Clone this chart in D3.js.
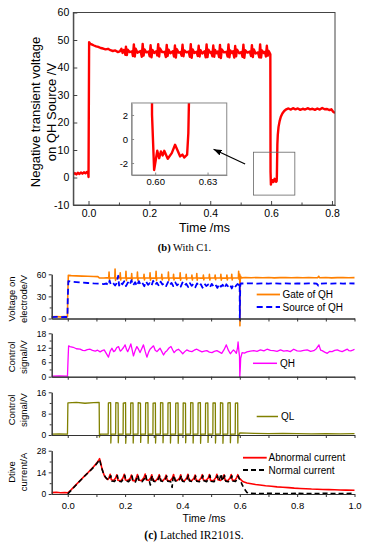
<!DOCTYPE html>
<html>
<head>
<meta charset="utf-8">
<script src="https://cdn.jsdelivr.net/npm/d3@7"></script>
<style>
  body { margin: 0; background: #fff; }
</style>
</head>
<body>
<main></main>
<script>
// ---------- values ----------

// (b) negative transient voltage on QH source, [time ms, V]
const negVoltage = [
  [-0.05,1.2],[-0.045,1.6],[-0.04,1.1],[-0.035,1.7],[-0.03,1.3],[-0.025,1.8],[-0.02,1.4],[-0.015,1.9],[-0.01,1.5],[-0.005,2.0],[-0.001,1.6],[0.0,0.2],
  [0.002,49.2],[0.006,48.6],[0.012,48.3],[0.018,48.0],[0.025,47.7],[0.032,47.5],[0.04,47.1],[0.048,46.9],[0.056,46.6],[0.064,46.8],[0.072,46.3],[0.08,46.0],[0.088,46.2],[0.096,45.6],[0.103,45.9],[0.108,46.8],[0.112,45.3],[0.116,46.4],
  [0.119,45.6],[0.121,44.6],[0.123,47.6],[0.126,44.5],[0.129,46.5],[0.135,45.6],
  [0.143,45.9],[0.146,44.2],[0.149,48.4],[0.152,44.0],[0.155,46.8],[0.161,45.4],
  [0.171,46.0],[0.175,43.9],[0.178,48.6],[0.181,44.3],[0.184,46.6],[0.19,45.5],
  [0.197,45.8],[0.201,44.1],[0.204,48.1],[0.207,43.7],[0.21,46.4],[0.216,45.3],
  [0.222,45.9],[0.226,44.4],[0.229,48.5],[0.232,44.0],[0.235,46.9],[0.242,45.6],
  [0.25,45.7],[0.254,43.8],[0.257,48.2],[0.26,44.2],[0.263,46.5],[0.269,45.2],
  [0.277,45.9],[0.281,44.0],[0.284,48.0],[0.287,43.6],[0.29,46.7],[0.296,45.4],
  [0.302,45.6],[0.306,44.3],[0.309,48.3],[0.312,44.1],[0.315,46.2],[0.322,45.5],
  [0.329,45.8],[0.333,43.9],[0.336,48.5],[0.339,43.5],[0.342,46.6],[0.348,45.3],
  [0.355,45.7],[0.359,44.2],[0.362,47.9],[0.365,44.0],[0.368,46.3],[0.374,45.1],
  [0.381,45.9],[0.385,43.7],[0.388,48.4],[0.391,43.8],[0.394,46.5],[0.4,45.4],
  [0.403,45.6],[0.407,44.1],[0.41,48.0],[0.413,43.9],[0.416,46.4],[0.421,45.2],
  [0.425,45.8],[0.429,43.8],[0.432,48.2],[0.435,43.4],[0.438,46.6],[0.445,45.5],
  [0.453,45.7],[0.457,44.0],[0.46,48.4],[0.463,43.7],[0.466,46.2],[0.472,45.3],
  [0.475,45.9],[0.479,43.6],[0.482,47.8],[0.485,44.1],[0.488,46.5],[0.495,45.2],
  [0.502,45.6],[0.506,43.9],[0.509,48.3],[0.512,43.5],[0.515,46.3],[0.522,45.4],
  [0.53,45.8],[0.534,44.2],[0.537,48.1],[0.54,43.8],[0.543,46.6],[0.549,45.1],
  [0.557,45.5],[0.561,43.7],[0.564,48.4],[0.567,43.6],[0.57,46.2],[0.576,45.3],
  [0.58,45.7],[0.583,44.0],[0.586,47.9],[0.589,44.3],[0.592,46.0],[0.595,45.4],
  [0.5975,44.8],[0.5982,2.0],[0.5994,-2.58],[0.6012,-0.98],[0.6023,-1.6],[0.6033,-1.03],[0.6043,-1.37],[0.6052,-0.98],[0.6072,-1.65],[0.6095,-1.18],[0.6114,-0.48],[0.6129,-0.98],[0.6143,-1.45],[0.6156,-1.3],[0.6167,-1.54],[0.6183,-1.3],
  [0.619,0.5],[0.6196,5],[0.6206,12],[0.622,15.5],[0.6245,18.4],[0.628,20.5],[0.632,22.1],[0.637,23.3],[0.643,24.2],[0.65,24.8],[0.657,25.1],[0.665,24.7],[0.672,25.2],[0.68,24.8],[0.688,25.1],[0.696,24.6],[0.704,25.0],[0.712,24.7],[0.72,25.2],[0.728,24.8],[0.736,25.0],[0.744,24.6],[0.752,25.1],[0.76,24.7],[0.768,25.3],[0.776,24.8],[0.784,24.9],[0.792,24.5],[0.798,24.8],[0.804,23.9],[0.81,23.5]
];
const topXTicks = [0.0, 0.2, 0.4, 0.6, 0.8];
const topXMinor = [0.1, 0.3, 0.5, 0.7];
const topYTicks = [-10, 0, 10, 20, 30, 40, 50, 60];
const insetXTicks = [0.60, 0.63];
const insetYTicks = [-2, 0, 2];
// inset window, highlight box and arrow, in main chart units
const insetDomainX = [0.5865, 0.641];
const insetDomainY = [-3, 3];
const insetPlace = [0.1416, 0.4543, 0.9, 27.1];   // t0, t1, v0, v1
const zoomBox = [0.542, 0.678, -6.4, 9.2];
const arrowFrom = [0.5146, 4.9];
const arrowTo = [0.411, 10.25];

// (c) latched IR2101S
const gateQH = [
  [-0.056,2.3],[-0.04,2.6],[-0.025,2.2],[-0.01,2.5],[-0.001,2.3],[0.0,31],[0.002,58.6],[0.012,58.2],[0.03,57.8],[0.05,57.5],[0.07,57.3],[0.09,57.0],[0.105,56.9],[0.11,55.2],[0.125,55.0],[0.135,55.3],
  [0.143,55.1],[0.144,63],[0.1455,52.5],[0.147,55.4],[0.155,55.0],
  [0.164,55.2],[0.165,67],[0.1665,51.8],[0.168,55.3],[0.175,54.9],
  [0.182,55.2],[0.183,62],[0.1845,52.3],[0.186,55.1],[0.195,55.0],
  [0.202,55.3],[0.203,64],[0.2045,51.5],[0.206,55.2],[0.214,54.8],
  [0.222,55.1],[0.223,61],[0.2245,52.6],[0.226,55.3],[0.234,55.0],
  [0.242,55.2],[0.243,63],[0.2445,51.9],[0.246,55.1],[0.255,54.9],
  [0.265,55.2],[0.266,60],[0.2675,52.4],[0.269,55.3],[0.277,55.0],
  [0.286,55.1],[0.287,62],[0.2885,52.0],[0.29,55.2],[0.298,54.8],
  [0.307,55.2],[0.308,64],[0.3095,51.6],[0.311,55.3],[0.319,55.0],
  [0.327,55.1],[0.328,60],[0.3295,52.5],[0.331,55.2],[0.34,54.9],
  [0.35,55.2],[0.351,63],[0.3525,51.8],[0.354,55.1],[0.36,55.0],
  [0.368,55.3],[0.369,60],[0.3705,52.4],[0.372,55.2],[0.381,54.8],
  [0.391,55.1],[0.392,62],[0.3935,52.1],[0.395,55.3],[0.403,55.0],
  [0.412,55.2],[0.413,60],[0.4145,52.6],[0.416,55.1],[0.424,54.9],
  [0.432,55.2],[0.433,59],[0.4345,52.3],[0.436,55.2],[0.442,55.0],
  [0.449,55.1],[0.45,61],[0.4515,52.0],[0.453,55.3],[0.462,54.8],
  [0.472,55.2],[0.473,59],[0.4745,52.5],[0.476,55.1],[0.485,55.0],
  [0.493,55.3],[0.494,60],[0.4955,52.2],[0.497,55.2],[0.505,54.9],
  [0.513,55.1],[0.514,59],[0.5155,52.6],[0.517,55.3],[0.525,55.0],
  [0.533,55.2],[0.534,60],[0.5355,52.1],[0.537,55.1],[0.545,54.8],
  [0.554,55.2],[0.555,59],[0.5565,52.4],[0.558,55.2],[0.565,55.0],
  [0.571,55.1],[0.572,60],[0.5735,52.3],[0.575,55.3],[0.586,54.9],
  [0.595,55.2],[0.596,64],[0.5975,53.0],[0.599,56.5],[0.6,60],[0.6005,-10],[0.601,48],[0.6025,57.5],[0.605,55.2],
  [0.62,55.6],[0.64,55.3],[0.66,55.7],[0.68,55.4],[0.7,55.6],[0.72,55.2],[0.74,55.5],[0.76,55.7],[0.78,55.3],[0.8,55.6],[0.82,55.4],[0.84,55.6],[0.86,55.3],[0.872,55.5],[0.875,57.3],[0.878,55.4],[0.9,55.6],[0.92,55.2],[0.94,55.5],[0.96,55.7],[0.98,55.3],[1.0,55.5]
];
const sourceQH = [
  [-0.056,1.9],[-0.04,2.2],[-0.025,1.8],[-0.01,2.1],[-0.001,2.0],[0.0,26],[0.002,50.6],[0.015,50.0],[0.03,49.4],[0.05,48.7],[0.07,48.2],[0.09,47.6],[0.11,47.2],[0.125,46.8],[0.135,47.5],
  [0.142,45.2],[0.146,51.5],[0.15,46.0],[0.158,48.2],[0.165,44.8],[0.17,47.6],[0.176,58.0],[0.179,44.5],[0.185,49.5],[0.19,46.3],[0.197,50.5],[0.203,44.0],[0.21,48.8],[0.216,45.5],[0.222,52.0],[0.228,45.0],[0.235,49.2],[0.241,44.3],[0.248,50.8],[0.254,46.0],[0.26,48.5],[0.267,43.8],[0.273,50.2],[0.28,45.6],[0.286,48.0],[0.292,44.5],[0.298,51.2],[0.305,45.8],[0.311,48.6],[0.318,44.2],[0.324,50.0],[0.33,46.2],[0.337,47.8],[0.343,43.9],[0.35,49.6],[0.356,45.4],[0.362,48.3],[0.368,44.0],[0.375,49.0],[0.381,45.0],[0.388,47.5],[0.394,43.2],[0.4,48.8],[0.407,44.6],[0.413,47.2],[0.42,42.8],[0.426,48.0],[0.432,44.3],[0.438,46.8],[0.445,42.5],[0.451,47.6],[0.458,43.8],[0.464,46.5],[0.47,41.8],[0.477,47.3],[0.483,44.0],[0.49,46.2],[0.496,42.2],[0.502,47.0],[0.509,43.5],[0.515,46.0],[0.522,41.5],[0.528,46.8],[0.534,43.2],[0.54,45.8],[0.547,41.2],[0.553,46.5],[0.56,43.0],[0.566,45.6],[0.572,40.8],[0.578,46.3],[0.585,43.6],[0.592,46.8],[0.598,45.2],
  [0.5995,47],[0.6,-1.5],[0.6015,44],[0.603,47.6],
  [0.62,47.5],[0.64,47.8],[0.66,47.3],[0.68,47.7],[0.7,47.4],[0.72,47.8],[0.74,47.3],[0.76,47.6],[0.78,47.2],[0.8,47.7],[0.82,47.4],[0.84,47.8],[0.86,47.5],[0.868,47.3],[0.874,44.6],[0.88,47.4],[0.9,47.8],[0.92,47.3],[0.94,47.7],[0.96,47.4],[0.98,47.6],[1.0,47.5]
];
const qhSignal = [
  [-0.056,0.2],[-0.03,0.3],[-0.001,0.2],[0.001,7],[0.003,12.8],[0.008,12.5],[0.019,12.2],[0.03,11.6],[0.043,11.4],[0.052,10.9],[0.06,10.8],[0.068,11.2],[0.078,11.4],[0.086,10.9],[0.096,10.6],[0.104,11.0],[0.113,10.3],[0.12,10.8],[0.127,11.1],[0.142,8.1],[0.148,10.6],[0.154,11.8],[0.16,10.4],[0.165,10.8],[0.171,12.1],[0.177,12.5],[0.183,10.6],[0.188,11.1],[0.194,12.0],[0.2,13.2],[0.205,11.3],[0.209,10.4],[0.215,12.0],[0.22,13.6],[0.225,10.9],[0.229,8.6],[0.235,10.8],[0.241,12.5],[0.247,11.3],[0.252,10.0],[0.258,11.6],[0.264,13.2],[0.27,10.5],[0.276,8.1],[0.282,10.2],[0.287,11.4],[0.293,12.1],[0.299,12.8],[0.305,11.0],[0.311,10.4],[0.317,11.2],[0.322,11.8],[0.328,10.4],[0.334,9.0],[0.34,10.2],[0.346,10.8],[0.353,11.9],[0.36,12.5],[0.366,11.1],[0.371,10.0],[0.378,10.9],[0.386,11.4],[0.393,10.6],[0.401,9.5],[0.408,10.4],[0.415,11.1],[0.424,10.6],[0.433,10.4],[0.441,11.0],[0.45,11.4],[0.459,10.8],[0.468,10.3],[0.476,10.6],[0.485,10.8],[0.494,10.2],[0.503,10.0],[0.511,10.5],[0.52,10.8],[0.528,10.3],[0.537,9.7],[0.545,11.2],[0.553,13.2],[0.56,11.0],[0.567,9.5],[0.572,10.3],[0.578,11.1],[0.583,10.5],[0.588,9.7],[0.592,12.0],[0.594,14.4],[0.597,10.4],[0.599,8.5],[0.6,0.0],[0.6015,3.0],[0.603,7.6],[0.608,10.0],
  [0.616,9.8],[0.625,10.3],[0.637,10.6],[0.649,10.8],[0.66,10.5],[0.672,11.1],[0.684,10.7],[0.695,11.4],[0.707,10.9],[0.718,10.8],[0.73,10.5],[0.742,11.1],[0.753,10.6],[0.765,10.8],[0.776,10.4],[0.788,11.4],[0.8,10.7],[0.812,10.6],[0.823,10.9],[0.835,11.1],[0.847,10.5],[0.858,10.8],[0.867,11.6],[0.876,13.2],[0.882,11.0],[0.887,10.8],[0.896,10.2],[0.905,9.7],[0.913,10.5],[0.922,10.4],[0.931,10.9],[0.94,11.1],[0.948,10.7],[0.957,10.4],[0.966,10.9],[0.975,11.4],[0.981,10.8],[0.987,10.7],[0.994,11.0],[1.0,11.4]
];
const qlSignal = [
  [-0.056,0.3],[-0.03,0.4],[-0.001,0.3],[0.0005,12.0],[0.03,12.2],[0.06,11.9],[0.09,12.1],[0.1095,12.2],[0.1105,-0.8],[0.113,0.3],
  [0.141,0.3],[0.1416,12.0],[0.1496,12.1],[0.1502,-3.0],[0.1515,0.3],
  [0.167,0.3],[0.1676,12.1],[0.1756,12.0],[0.1762,-2.9],[0.1775,0.3],
  [0.193,0.3],[0.1936,11.9],[0.2016,12.1],[0.2022,-3.1],[0.2035,0.3],
  [0.219,0.3],[0.2196,12.0],[0.2276,12.0],[0.2282,-3.0],[0.2295,0.3],
  [0.245,0.3],[0.2456,12.1],[0.2536,11.9],[0.2542,-2.8],[0.2555,0.3],
  [0.271,0.3],[0.2716,12.0],[0.2796,12.1],[0.2802,-3.1],[0.2815,0.3],
  [0.297,0.3],[0.2976,11.9],[0.3056,12.0],[0.3062,-3.0],[0.3075,0.3],
  [0.323,0.3],[0.3236,12.1],[0.3316,12.0],[0.3322,-2.9],[0.3335,0.3],
  [0.349,0.3],[0.3496,12.0],[0.3576,12.1],[0.3582,-3.0],[0.3595,0.3],
  [0.376,0.3],[0.3766,11.9],[0.3846,12.0],[0.3852,-3.1],[0.3865,0.3],
  [0.402,0.3],[0.4026,12.0],[0.4106,11.9],[0.4112,-2.9],[0.4125,0.3],
  [0.428,0.3],[0.4286,12.1],[0.4366,12.0],[0.4372,-3.0],[0.4385,0.3],
  [0.454,0.3],[0.4546,12.0],[0.4626,12.1],[0.4632,-3.1],[0.4645,0.3],
  [0.48,0.3],[0.4806,11.9],[0.4886,12.0],[0.4892,-2.8],[0.4905,0.3],
  [0.506,0.3],[0.5066,12.0],[0.5146,12.0],[0.5152,-3.0],[0.5165,0.3],
  [0.532,0.3],[0.5326,12.1],[0.5406,11.9],[0.5412,-3.1],[0.5425,0.3],
  [0.558,0.3],[0.5586,12.0],[0.5666,12.1],[0.5672,-2.9],[0.5685,0.3],
  [0.584,0.3],[0.5846,11.9],[0.5926,12.0],[0.5932,-3.0],[0.5945,0.3],
  [0.599,0.3],[0.6,0.8],[0.65,0.6],[0.7,0.5],[0.75,0.6],[0.8,0.5],[0.85,0.4],[0.9,0.5],[0.95,0.4],[1.0,0.5]
];
const abnormalCur = [
  [-0.056,0.9],[-0.04,1.1],[-0.025,0.8],[-0.01,1.0],[0.0,0.8],[0.01,2.4],[0.02,4.3],[0.03,6.2],[0.04,8.1],[0.05,10.0],[0.06,11.9],[0.07,13.7],[0.08,15.6],[0.09,17.6],[0.1,19.8],[0.108,21.9],[0.111,22.9],[0.114,20.8],[0.118,17.5],[0.123,14.2],[0.128,11.6],[0.134,10.1],[0.14,9.4],
  [0.144,10.6],[0.148,12.8],[0.152,9.2],[0.16,8.7],
  [0.167,10.3],[0.171,12.4],[0.175,8.9],[0.185,8.5],
  [0.193,10.5],[0.197,12.7],[0.201,9.1],[0.21,8.8],
  [0.218,10.2],[0.222,12.3],[0.226,8.8],[0.234,8.4],
  [0.239,10.4],[0.243,12.6],[0.247,9.0],[0.257,8.6],
  [0.266,10.6],[0.27,12.9],[0.274,9.2],[0.282,8.7],
  [0.289,10.3],[0.293,12.4],[0.297,8.9],[0.307,8.5],
  [0.315,10.5],[0.319,12.5],[0.323,9.0],[0.332,8.6],
  [0.339,10.2],[0.343,12.2],[0.347,8.8],[0.357,8.4],
  [0.365,10.4],[0.369,12.6],[0.373,9.1],[0.382,8.7],
  [0.39,10.3],[0.394,12.4],[0.398,8.9],[0.407,8.5],
  [0.415,10.5],[0.419,12.7],[0.423,9.0],[0.432,8.6],
  [0.44,10.2],[0.444,12.3],[0.448,8.8],[0.457,8.5],
  [0.465,10.4],[0.469,12.5],[0.473,9.1],[0.482,8.7],
  [0.49,10.3],[0.494,12.6],[0.498,8.9],[0.508,8.6],
  [0.516,10.5],[0.52,12.8],[0.524,9.2],[0.533,8.7],
  [0.541,10.3],[0.545,12.4],[0.549,8.9],[0.558,8.5],
  [0.566,10.4],[0.57,12.6],[0.574,9.0],[0.583,8.8],
  [0.589,10.6],[0.593,12.5],[0.597,10.2],[0.602,9.6],
  [0.608,8.4],[0.615,7.7],[0.625,7.1],[0.64,6.6],[0.655,6.1],[0.67,5.8],[0.69,5.3],[0.71,5.0],[0.73,4.6],[0.75,4.4],[0.77,4.1],[0.79,3.8],[0.81,3.6],[0.83,3.4],[0.85,3.2],[0.87,3.1],[0.89,2.9],[0.91,2.8],[0.93,2.7],[0.95,2.6],[0.97,2.5],[1.0,2.4]
];
const normalCur = [
  [0.0,0.0],[0.01,2.0],[0.02,4.0],[0.03,6.0],[0.04,8.0],[0.05,9.9],[0.06,11.8],[0.07,13.6],[0.08,15.4],[0.09,17.3],[0.1,19.4],[0.108,21.4],[0.111,22.3],[0.114,20.0],[0.119,16.4],[0.125,13.1],[0.131,11.0],[0.138,9.6],
  [0.142,8.9],[0.15,11.8],[0.154,8.4],[0.163,8.1],
  [0.169,9.8],[0.173,11.9],[0.177,8.3],[0.187,7.9],
  [0.195,10.0],[0.199,12.1],[0.203,8.5],[0.212,8.0],
  [0.22,9.7],[0.224,11.7],[0.228,8.2],[0.236,7.8],
  [0.241,10.1],[0.245,12.0],[0.249,8.4],[0.259,8.0],
  [0.268,10.0],[0.272,12.2],[0.276,8.6],[0.285,7.9],[0.288,5.8],[0.29,8.2],
  [0.291,9.8],[0.295,11.8],[0.299,8.3],[0.309,7.9],
  [0.317,10.0],[0.321,12.0],[0.325,8.4],[0.334,8.0],
  [0.341,9.7],[0.345,11.6],[0.349,8.2],[0.359,7.9],[0.364,4.3],[0.366,8.4],
  [0.367,9.9],[0.371,12.0],[0.375,8.5],[0.384,8.1],
  [0.392,9.8],[0.396,11.8],[0.4,8.3],[0.409,7.9],
  [0.417,10.0],[0.421,12.1],[0.425,8.4],[0.434,8.0],
  [0.442,9.7],[0.446,11.7],[0.45,8.2],[0.459,7.9],
  [0.467,9.9],[0.471,11.9],[0.475,8.5],[0.484,8.0],
  [0.492,9.8],[0.496,12.0],[0.5,8.3],[0.51,7.9],
  [0.518,10.1],[0.522,11.8],[0.526,8.6],[0.531,10.5],[0.535,13.0],[0.539,8.4],
  [0.543,9.9],[0.547,11.9],[0.551,8.3],[0.56,7.9],
  [0.568,9.8],[0.572,11.8],[0.576,8.4],[0.585,8.1],
  [0.591,9.9],[0.595,11.6],[0.598,10.0],[0.603,8.6],[0.608,6.0],[0.612,4.6],[0.615,3.8],[0.62,2.2],[0.625,1.0],[0.632,0.5],[0.66,0.3],[0.7,0.4],[0.75,0.3],[0.795,0.4],[0.8,0.9],[0.805,0.4],[0.85,0.3],[0.9,0.4],[0.95,0.3],[1.0,0.4]
];
const lowXTicks = [0.0, 0.2, 0.4, 0.6, 0.8, 1.0];
const lowXMinor = [0.1, 0.3, 0.5, 0.7, 0.9];
const p1Ticks = [0, 30, 60], p1Minor = [15, 45];
const p2Ticks = [0, 6, 12, 18], p2Minor = [3, 9, 15];
const p3Ticks = [0, 8, 16], p3Minor = [4, 12];
const p4Ticks = [0, 14, 28], p4Minor = [7, 21];

// ---------- drawing ----------
const FONT = '"Liberation Sans", Arial, Helvetica, sans-serif';
const SERIF = '"Liberation Serif", "Times New Roman", serif';
const w = 367, h = 550;
const plain = d => String(d);   // plain hyphen minus like the original

const svg = d3.select("main").append("svg")
  .attr("width", w).attr("height", h)
  .style("display", "block")
  .attr("font-family", FONT);

svg.append("rect").attr("width", w).attr("height", h).attr("fill", "#fff");

const defs = svg.append("defs");
defs.append("marker").attr("id", "arrowHead")
  .attr("viewBox", "0 0 8 6").attr("refX", 8).attr("refY", 3)
  .attr("markerWidth", 8).attr("markerHeight", 6)
  .attr("markerUnits", "userSpaceOnUse").attr("orient", "auto")
  .append("path").attr("d", "M0,0L8,3L0,6Z").attr("fill", "#000");

// tidy up what d3.axis puts on a group
function styleAxis(g, fs, col) {
  g.attr("font-family", FONT).attr("font-size", fs);
  g.select(".domain").attr("stroke", col);
  g.selectAll(".tick line").attr("stroke", col);
  g.selectAll(".tick text").attr("fill", "#000");
}

// ===== (b) With C1 =====
const xTop = d3.scaleLinear().domain([-0.05, 0.81]).range([73.3, 335]);
const yTop = d3.scaleLinear().domain([-10, 60]).range([205, 12.5]);
const lineTop = d3.line().x(d => xTop(d[0])).y(d => yTop(d[1]));

defs.append("clipPath").attr("id", "clipTop").append("rect")
  .attr("x", xTop.range()[0]).attr("y", yTop.range()[1])
  .attr("width", xTop.range()[1] - xTop.range()[0])
  .attr("height", yTop.range()[0] - yTop.range()[1]);

svg.append("path").datum(negVoltage)
  .attr("clip-path", "url(#clipTop)")
  .attr("d", lineTop)
  .attr("fill", "none").attr("stroke", "#ff0000").attr("stroke-width", 2.4)
  .attr("stroke-linejoin", "round");

svg.append("g").attr("transform", `translate(0,${yTop.range()[0]})`)
  .call(d3.axisBottom(xTop).tickValues(topXTicks).tickSize(-4).tickSizeOuter(0).tickPadding(5).tickFormat(d3.format(".1f")))
  .call(g => styleAxis(g, 10.5, "#444"));
svg.append("g").attr("transform", `translate(0,${yTop.range()[0]})`)
  .call(d3.axisBottom(xTop).tickValues(topXMinor).tickSize(-2.5).tickSizeOuter(0).tickFormat(""))
  .call(g => styleAxis(g, 10.5, "#444"));
svg.append("g").attr("transform", `translate(${xTop.range()[0]},0)`)
  .call(d3.axisLeft(yTop).tickValues(topYTicks).tickSize(-4).tickSizeOuter(0).tickPadding(4).tickFormat(plain))
  .call(g => styleAxis(g, 10.5, "#444"));

// frame
svg.append("rect")
  .attr("x", xTop.range()[0]).attr("y", yTop.range()[1])
  .attr("width", xTop.range()[1] - xTop.range()[0])
  .attr("height", yTop.range()[0] - yTop.range()[1])
  .attr("fill", "none").attr("stroke", "#444").attr("stroke-width", 1);

// box around the dip
svg.append("rect")
  .attr("x", xTop(zoomBox[0])).attr("y", yTop(zoomBox[3]))
  .attr("width", xTop(zoomBox[1]) - xTop(zoomBox[0]))
  .attr("height", yTop(zoomBox[2]) - yTop(zoomBox[3]))
  .attr("fill", "none").attr("stroke", "#666").attr("stroke-width", 0.8);

// inset
const xIn = d3.scaleLinear().domain(insetDomainX).range([xTop(insetPlace[0]), xTop(insetPlace[1])]);
const yIn = d3.scaleLinear().domain(insetDomainY).range([yTop(insetPlace[2]), yTop(insetPlace[3])]);
const lineIn = d3.line().x(d => xIn(d[0])).y(d => yIn(d[1]));
const inW = xIn.range()[1] - xIn.range()[0];
const inH = yIn.range()[0] - yIn.range()[1];

defs.append("clipPath").attr("id", "clipIn").append("rect")
  .attr("x", xIn.range()[0]).attr("y", yIn.range()[1]).attr("width", inW).attr("height", inH);

svg.append("rect").attr("x", xIn.range()[0]).attr("y", yIn.range()[1])
  .attr("width", inW).attr("height", inH).attr("fill", "#fff");
svg.append("path").datum(negVoltage)
  .attr("clip-path", "url(#clipIn)")
  .attr("d", lineIn)
  .attr("fill", "none").attr("stroke", "#ff0000").attr("stroke-width", 2.4)
  .attr("stroke-linejoin", "round");
svg.append("g").attr("transform", `translate(0,${yIn.range()[0]})`)
  .call(d3.axisBottom(xIn).tickValues(insetXTicks).tickSize(-2.5).tickSizeOuter(0).tickPadding(3.5).tickFormat(d3.format(".2f")))
  .call(g => styleAxis(g, 9.5, "#888"));
svg.append("g").attr("transform", `translate(${xIn.range()[0]},0)`)
  .call(d3.axisLeft(yIn).tickValues(insetYTicks).tickSize(-2.5).tickSizeOuter(0).tickPadding(3.5).tickFormat(plain))
  .call(g => styleAxis(g, 9.5, "#888"));
svg.append("rect").attr("x", xIn.range()[0]).attr("y", yIn.range()[1])
  .attr("width", inW).attr("height", inH)
  .attr("fill", "none").attr("stroke", "#888").attr("stroke-width", 1);

// arrow
svg.append("line")
  .attr("x1", xTop(arrowFrom[0])).attr("y1", yTop(arrowFrom[1]))
  .attr("x2", xTop(arrowTo[0])).attr("y2", yTop(arrowTo[1]))
  .attr("stroke", "#000").attr("stroke-width", 1.2)
  .attr("marker-end", "url(#arrowHead)");

// titles
svg.append("text").attr("transform", "translate(39.5,112) rotate(-90)")
  .attr("text-anchor", "middle").attr("font-size", 13).text("Negative transient voltage");
svg.append("text").attr("transform", "translate(55.5,112) rotate(-90)")
  .attr("text-anchor", "middle").attr("font-size", 13).text("on QH Source /V");
svg.append("text").attr("x", 204.5).attr("y", 231.5)
  .attr("text-anchor", "middle").attr("font-size", 12.5).text("Time /ms");

const capB = svg.append("text").attr("x", 184.5).attr("y", 251)
  .attr("text-anchor", "middle").attr("font-family", SERIF).attr("font-size", 10.5);
capB.append("tspan").attr("font-weight", "bold").text("(b)");
capB.append("tspan").text(" With C1.");

// ===== (c) Latched IR2101S =====
const xLow = d3.scaleLinear().domain([-0.056, 1.0]).range([51.7, 354.5]);
const LOWAX = "#333";

const panels = [
  { y0: 318.5, y1: 274.3, domain: [0, 60], ticks: p1Ticks, minor: p1Minor, title: ["Voltage on", "electrode/V"], titleY: 299,
    series: [
      { data: gateQH, color: "#ff8000", width: 1.6 },
      { data: sourceQH, color: "#0000ff", width: 1.8, dash: "6,3.5" }
    ],
    legend: [
      { text: "Gate of QH", color: "#ff8000", width: 1.8, x0: 256.7, x1: 280, y: 294.5, tx: 282.5 },
      { text: "Source of QH", color: "#0000ff", width: 1.8, dash: "6,3.5", x0: 256.7, x1: 280, y: 307, tx: 282.5 }
    ] },
  { y0: 376.7, y1: 333.3, domain: [0, 18], ticks: p2Ticks, minor: p2Minor, title: ["Control", "signal/V"], titleY: 357,
    series: [{ data: qhSignal, color: "#ff00ff", width: 1.3 }],
    legend: [{ text: "QH", color: "#ff00ff", width: 1.5, x0: 253, x1: 277, y: 363.3, tx: 280 }] },
  { y0: 435, y1: 392.3, domain: [0, 16], ticks: p3Ticks, minor: p3Minor, title: ["Control", "signal/V"], titleY: 410,
    series: [{ data: qlSignal, color: "#808000", width: 1.3 }],
    legend: [{ text: "QL", color: "#808000", width: 1.5, x0: 256.7, x1: 278, y: 416.5, tx: 281 }] },
  { y0: 494, y1: 450.7, domain: [0, 28], ticks: p4Ticks, minor: p4Minor, title: ["Dtive", "current/A"], titleY: 472,
    series: [
      { data: abnormalCur, color: "#ff0000", width: 1.6 },
      { data: normalCur, color: "#000", width: 1.6, dash: "5,3" }
    ],
    legend: [
      { text: "Abnormal current", color: "#ff0000", width: 1.8, x0: 243, x1: 266.7, y: 457.7, tx: 268.5 },
      { text: "Normal current", color: "#000", width: 1.8, dash: "5,3", x0: 243, x1: 266.7, y: 470, tx: 268.5 }
    ] }
];

panels.forEach((p, i) => {
  const y = d3.scaleLinear().domain(p.domain).range([p.y0, p.y1]);
  const line = d3.line().x(d => xLow(d[0])).y(d => y(d[1]));
  const last = i === panels.length - 1;

  p.series.forEach(s => {
    svg.append("path").datum(s.data)
      .attr("d", line)
      .attr("fill", "none").attr("stroke", s.color).attr("stroke-width", s.width)
      .attr("stroke-dasharray", s.dash || null)
      .attr("stroke-linejoin", "round");
  });

  svg.append("g").attr("transform", `translate(0,${p.y0})`)
    .call(d3.axisBottom(xLow).tickValues(lowXTicks).tickSize(3).tickSizeOuter(0).tickPadding(5)
      .tickFormat(last ? d3.format(".1f") : ""))
    .call(g => styleAxis(g, 9.5, LOWAX));
  svg.append("g").attr("transform", `translate(0,${p.y0})`)
    .call(d3.axisBottom(xLow).tickValues(lowXMinor).tickSize(3).tickSizeOuter(0).tickFormat(""))
    .call(g => styleAxis(g, 9.5, LOWAX));
  svg.append("g").attr("transform", `translate(${xLow.range()[0]},0)`)
    .call(d3.axisLeft(y).tickValues(p.ticks).tickSize(3).tickSizeOuter(0).tickPadding(2.5).tickFormat(plain))
    .call(g => styleAxis(g, 8.5, LOWAX));
  svg.append("g").attr("transform", `translate(${xLow.range()[0]},0)`)
    .call(d3.axisLeft(y).tickValues(p.minor).tickSize(2).tickSizeOuter(0).tickFormat(""))
    .call(g => styleAxis(g, 8.5, LOWAX));

  svg.append("text").attr("transform", `translate(14.5,${p.titleY}) rotate(-90)`)
    .attr("text-anchor", "middle").attr("font-size", 9.5).text(p.title[0]);
  svg.append("text").attr("transform", `translate(27,${p.titleY}) rotate(-90)`)
    .attr("text-anchor", "middle").attr("font-size", 9.5).text(p.title[1]);

  p.legend.forEach(l => {
    svg.append("line").attr("x1", l.x0).attr("x2", l.x1).attr("y1", l.y).attr("y2", l.y)
      .attr("stroke", l.color).attr("stroke-width", l.width)
      .attr("stroke-dasharray", l.dash || null);
    svg.append("text").attr("x", l.tx).attr("y", l.y).attr("dy", "0.35em")
      .attr("font-size", 10).text(l.text);
  });
});

svg.append("text").attr("x", 204).attr("y", 522)
  .attr("text-anchor", "middle").attr("font-size", 10.5).text("Time /ms");

const capC = svg.append("text").attr("x", 194).attr("y", 539)
  .attr("text-anchor", "middle").attr("font-family", SERIF).attr("font-size", 11.5);
capC.append("tspan").attr("font-weight", "bold").text("(c)");
capC.append("tspan").text(" Latched IR2101S.");
</script>
</body>
</html>
